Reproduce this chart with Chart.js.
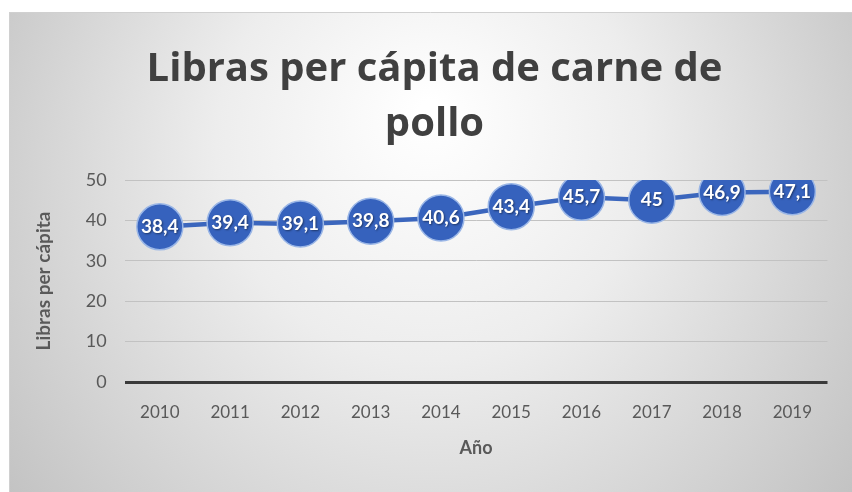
<!DOCTYPE html>
<html>
<head>
<meta charset="utf-8">
<script src="https://cdn.jsdelivr.net/npm/chart.js@4.4.0/dist/chart.umd.min.js"></script>
<style>
html,body{margin:0;padding:0;background:#fff;}
#wrap{width:852px;height:492px;position:relative;}
</style>
</head>
<body>
<div id="wrap"><canvas id="c" width="852" height="492"></canvas></div>
<script>
const categories = ['2010','2011','2012','2013','2014','2015','2016','2017','2018','2019'];
const values = [38.4, 39.4, 39.1, 39.8, 40.6, 43.4, 45.7, 45, 46.9, 47.1];
const valueLabels = ['38,4','39,4','39,1','39,8','40,6','43,4','45,7','45','46,9','47,1'];
const titleLines = ['Libras per cápita de carne de', 'pollo'];
const yTitle = 'Libras per cápita';
const xTitle = 'Año';

const FONT = "Lato, 'Open Sans', sans-serif";
const TFONT = "'Open Sans', Lato, sans-serif";

const bgPlugin = {
  id: 'bg',
  beforeDraw(chart) {
    const ctx = chart.ctx;
    const x0 = 9, y0 = 12, x1 = 852, y1 = 492;
    ctx.save();
    ctx.fillStyle = '#ffffff';
    ctx.fillRect(0, 0, chart.width, chart.height);
    const g = ctx.createRadialGradient(430, 110, 10, 430, 200, 520);
    g.addColorStop(0, '#ffffff');
    g.addColorStop(0.4, '#ededed');
    g.addColorStop(1, '#c2c2c2');
    ctx.fillStyle = g;
    ctx.fillRect(x0, y0, x1 - x0, y1 - y0);
    ctx.strokeStyle = '#d0d0d0';
    ctx.lineWidth = 1;
    ctx.beginPath();
    ctx.moveTo(x0, y0 + 0.5); ctx.lineTo(x1, y0 + 0.5);
    ctx.moveTo(x0 + 0.5, y0); ctx.lineTo(x0 + 0.5, y1);
    ctx.stroke();
    ctx.restore();
  }
};

const labelPlugin = {
  id: 'pointLabels',
  afterDatasetsDraw(chart) {
    const ctx = chart.ctx;
    const meta = chart.getDatasetMeta(0);
    ctx.save();
    ctx.font = "bold 19px " + FONT;
    ctx.textAlign = 'center';
    ctx.textBaseline = 'middle';
    meta.data.forEach((pt, i) => {
      ctx.shadowColor = 'rgba(0,0,0,0.45)';
      ctx.shadowBlur = 2;
      ctx.shadowOffsetX = 1;
      ctx.shadowOffsetY = 1;
      ctx.fillStyle = '#ffffff';
      ctx.fillText(valueLabels[i], pt.x, pt.y);
    });
    ctx.restore();
  }
};

new Chart(document.getElementById('c'), {
  type: 'line',
  data: {
    labels: categories,
    datasets: [{
      data: values,
      borderColor: '#3b66bd',
      borderWidth: 4.5,
      pointRadius: 23,
      pointHoverRadius: 23,
      pointBackgroundColor: '#3662bd',
      pointBorderColor: '#9ab6e6',
      pointBorderWidth: 1.5,
      tension: 0,
      fill: false
    }]
  },
  options: {
    responsive: false,
    animation: false,
    devicePixelRatio: 1,
    layout: { padding: { left: 32, right: 15, top: 12, bottom: 33 } },
    plugins: {
      legend: { display: false },
      tooltip: { enabled: false },
      title: {
        display: true,
        text: titleLines,
        color: '#404040',
        font: { family: TFONT, size: 40, weight: 'bold', lineHeight: 1.375 },
        padding: { top: 30, bottom: 28 }
      }
    },
    scales: {
      x: {
        offset: true,
        grid: { display: false, drawTicks: false },
        border: { display: false },
        ticks: { color: '#595959', font: { family: FONT, size: 17 }, padding: 20 },
        title: { display: true, text: xTitle, color: '#595959', font: { family: FONT, size: 18, weight: 'bold' }, padding: { top: -5, bottom: 0 } }
      },
      y: {
        min: 0,
        max: 50,
        ticks: { stepSize: 10, color: '#595959', font: { family: FONT, size: 18 }, padding: 18 },
        grid: {
          drawTicks: false,
          color: (c) => c.tick && c.tick.value === 0 ? '#3a3a3a' : '#c2c2c2',
          lineWidth: (c) => c.tick && c.tick.value === 0 ? 3 : 1
        },
        border: { display: false },
        title: { display: true, text: yTitle, color: '#595959', font: { family: FONT, size: 19, weight: 'bold' }, padding: { top: 0, bottom: 13 } }
      }
    }
  },
  plugins: [bgPlugin, labelPlugin]
});
</script>
</body>
</html>
